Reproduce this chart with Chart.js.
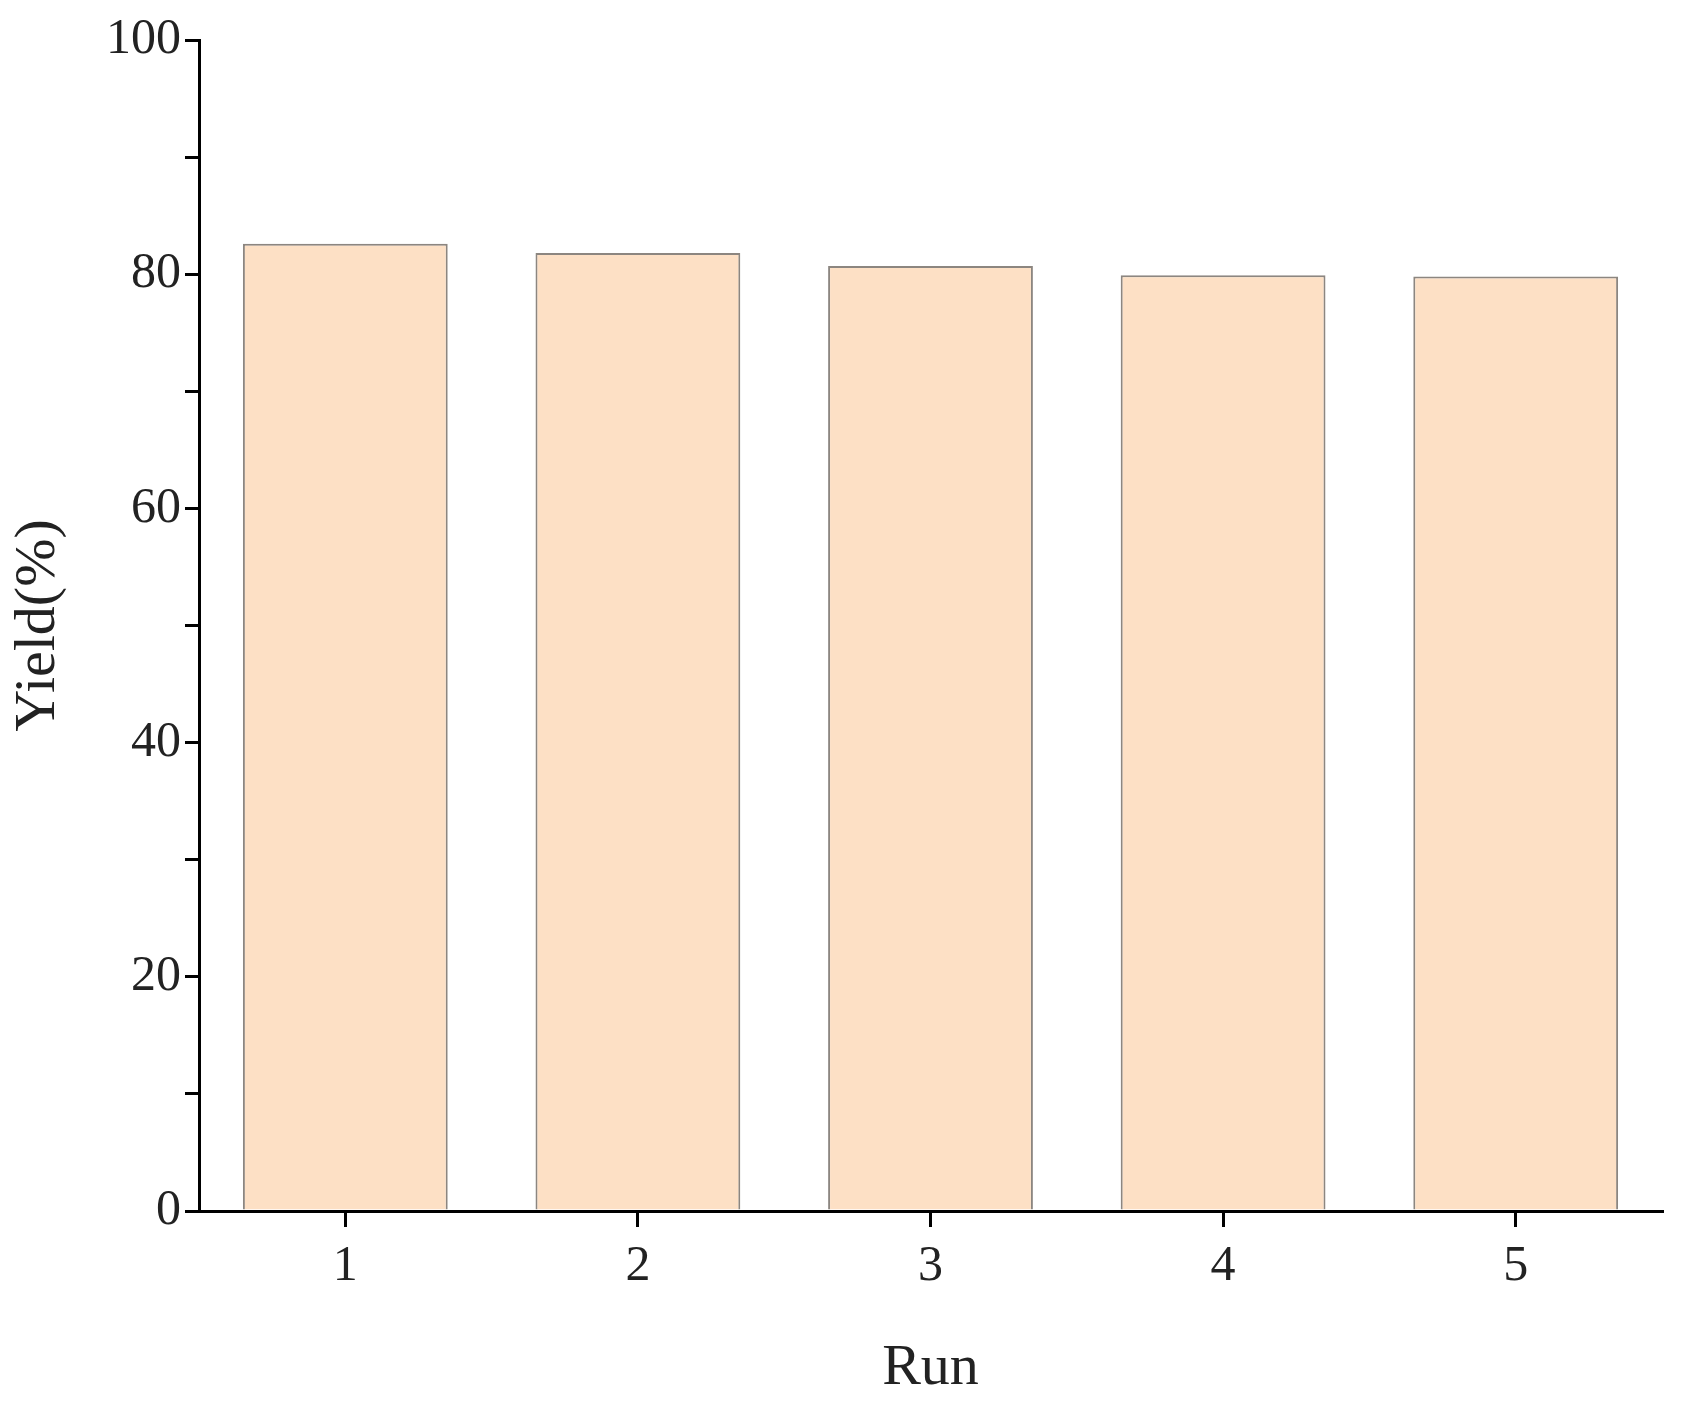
<!DOCTYPE html>
<html><head><meta charset="utf-8">
<script src="https://cdn.jsdelivr.net/npm/chart.js@4"></script>
<style>html,body{margin:0;padding:0;background:#fff}#w{width:1684px;height:1408px}</style>
</head><body><div id="w"><canvas id="c"></canvas></div>
<script>
const runs = ['1','2','3','4','5'];
const yieldValues = [82.6, 81.8, 80.7, 79.9, 79.8];
const yTickLabels = [0, 20, 40, 60, 80, 100];

new Chart(document.getElementById('c'), {
  type: 'bar',
  data: { labels: runs, datasets: [{ data: yieldValues, backgroundColor: '#fde0c5', borderColor: '#8c8680', borderWidth: 2, barPercentage: 0.7, categoryPercentage: 1 }] },
  options: {
    responsive: true, maintainAspectRatio: false, animation: false,
    layout: { padding: { top: 40, right: 22, left: 0, bottom: 0 } },
    plugins: { legend: { display: false }, tooltip: { enabled: false } },
    scales: {
      x: {
        offset: true,
        grid: { display: true, drawOnChartArea: false, tickLength: 16, color: '#000', lineWidth: 3, offset: false },
        border: { color: '#000', width: 3 },
        ticks: { color: '#222', font: { family: 'Liberation Serif', size: 50 }, padding: 10 },
        title: { display: true, text: 'Run', color: '#222', font: { family: 'Liberation Serif', size: 58 }, padding: { top: 20 } },
        afterFit: s => { s.height = 197; }
      },
      y: {
        min: 0, max: 100,
        grid: { display: true, drawOnChartArea: false, tickLength: 14, color: '#000', lineWidth: 3 },
        border: { color: '#000', width: 3 },
        ticks: { stepSize: 10, color: '#222', font: { family: 'Liberation Serif', size: 50 }, padding: 4,
          callback: v => yTickLabels.includes(v) ? String(v) : '' },
        title: { display: true, text: 'Yield(%)', color: '#222', font: { family: 'Liberation Serif', size: 58 }, padding: { bottom: 10 } },
        afterFit: s => { s.width = 199; }
      }
    }
  }
});
</script></body></html>
